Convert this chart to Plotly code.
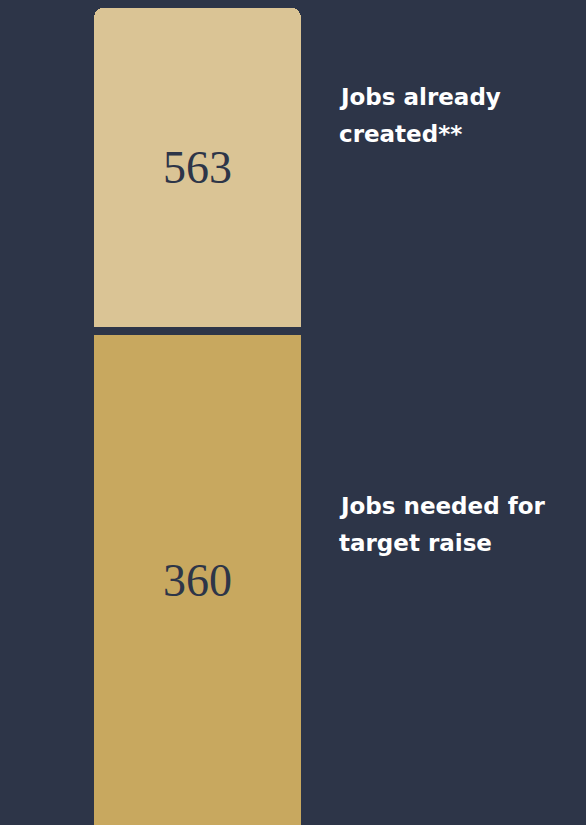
import plotly.graph_objects as go

# Data
categories = ["Jobs needed for target raise", "Jobs already created**"]
label_lines = [["Jobs needed for", "target raise"], ["Jobs already", "created**"]]
job_counts = [360, 563]
# Relative segment lengths as drawn in the picture (percent of the bar)
segment_share = [60.4, 39.6]
segment_colors = ["#c8a85f", "#dac495"]

BG = "#2d3548"
W, H = 586, 825

fig = go.Figure()
for cat, share, count, col in zip(categories, segment_share, job_counts, segment_colors):
    fig.add_trace(go.Bar(
        x=[0], y=[share], width=[1], name=cat,
        marker=dict(color=col, line=dict(color=BG, width=8)),
        text=[f"{count}"], textposition="inside", insidetextanchor="middle",
        textfont=dict(family="Liberation Serif, DejaVu Serif, serif", size=46, color=BG),
        hoverinfo="skip", showlegend=False,
    ))

# Right-hand labels, one annotation per line
first_line_px = [506, 97]   # vertical centre of first line, px from top
line_step = 36.5
for lines, py in zip(label_lines, first_line_px):
    for i, line in enumerate(lines):
        fig.add_annotation(
            text=line, xref="paper", yref="paper", x=337 / W,
            y=1 - (py + i * line_step) / H,
            xanchor="left", yanchor="middle", align="left", showarrow=False,
            font=dict(family="DejaVu Sans, sans-serif", size=23, color="#ffffff", weight=600),
        )

# px per unit: bar rect ~ 826 px tall for 100 units
bar_px = 826
ppu = bar_px / sum(segment_share)
span = H / ppu
ymin = 4.5 / ppu
ymax = ymin + span

bar_w_px = 215
x_ppu = bar_w_px / 1.0
left_px = 90
xmin = -0.5 - left_px / x_ppu
xmax = xmin + W / x_ppu

fig.update_layout(
    width=W, height=H, barmode="stack", barcornerradius=14,
    paper_bgcolor=BG, plot_bgcolor=BG,
    margin=dict(l=0, r=0, t=0, b=0),
    xaxis=dict(visible=False, range=[xmin, xmax], fixedrange=True),
    yaxis=dict(visible=False, range=[ymin, ymax], fixedrange=True),
)

fig.write_html("out.html")
